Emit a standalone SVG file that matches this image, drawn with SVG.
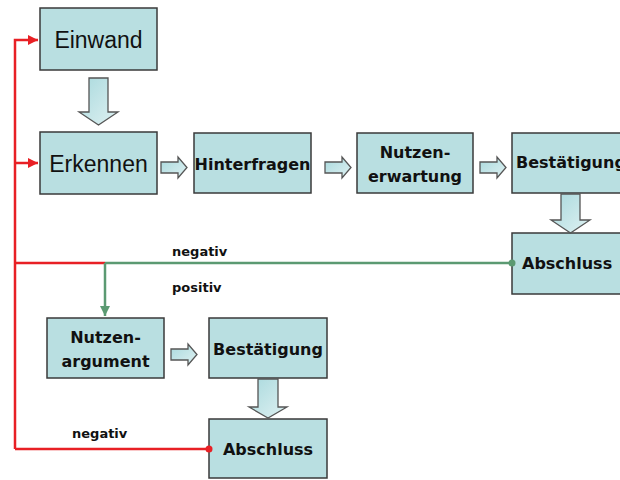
<svg xmlns="http://www.w3.org/2000/svg" width="620" height="480" viewBox="0 0 620 480">
  <defs>
    <style>
      .box { fill: #b9dfe1; stroke: #3a3a3a; stroke-width: 1.5; }
      .lbl { font-family: "DejaVu Sans", Verdana, sans-serif; font-weight: bold; font-size: 16px; fill: #111; }
      .big { font-family: "Liberation Sans", Arial, sans-serif; font-size: 23px; fill: #111; }
      .note { font-family: "DejaVu Sans", Verdana, sans-serif; font-weight: bold; font-size: 13px; fill: #111; }
      .flow { fill: url(#arrowFill); stroke: #555; stroke-width: 1.3; stroke-linejoin: miter; }
      .red { stroke: #e82025; stroke-width: 2.5; fill: none; }
      .green { stroke: #5b9a72; stroke-width: 2.5; fill: none; }
    </style>
    <linearGradient id="arrowFill" x1="0" y1="0" x2="1" y2="1">
      <stop offset="0" stop-color="#a9d9dd"/>
      <stop offset="1" stop-color="#dff1f2"/>
    </linearGradient>
    <marker id="redHead" viewBox="0 0 10 10" refX="10" refY="5" markerWidth="4" markerHeight="4" orient="auto" markerUnits="strokeWidth">
      <path d="M0,0 L10,5 L0,10 z" fill="#e82025"/>
    </marker>
    <marker id="greenHead" viewBox="0 0 10 10" refX="10" refY="5" markerWidth="4" markerHeight="4" orient="auto" markerUnits="strokeWidth">
      <path d="M0,0 L10,5 L0,10 z" fill="#5b9a72"/>
    </marker>
  </defs>

  <rect width="620" height="480" fill="#ffffff"/>

  <g id="einwand">
    <rect class="box" x="40" y="8" width="117" height="62"/>
    <text class="big" x="98.5" y="48" text-anchor="middle">Einwand</text>
  </g>

  <g id="erkennen">
    <rect class="box" x="40" y="132" width="117" height="62"/>
    <text class="big" x="98.5" y="172" text-anchor="middle">Erkennen</text>
  </g>

  <g id="hinterfragen">
    <rect class="box" x="194" y="133" width="117" height="60"/>
    <text class="lbl" x="252.5" y="170" text-anchor="middle">Hinterfragen</text>
  </g>

  <g id="nutzenerwartung">
    <rect class="box" x="357" y="133" width="116" height="60"/>
    <text class="lbl" x="415" y="158" text-anchor="middle">Nutzen-</text>
    <text class="lbl" x="415" y="182" text-anchor="middle">erwartung</text>
  </g>

  <g id="bestaetigung1">
    <rect class="box" x="512" y="133" width="120" height="60"/>
    <text class="lbl" x="516" y="168">Bestätigung</text>
  </g>

  <g id="abschluss1">
    <rect class="box" x="512" y="233" width="120" height="61"/>
    <text class="lbl" x="522" y="269">Abschluss</text>
  </g>

  <g id="nutzenargument">
    <rect class="box" x="47" y="318" width="117" height="60"/>
    <text class="lbl" x="105.5" y="343" text-anchor="middle">Nutzen-</text>
    <text class="lbl" x="105.5" y="367" text-anchor="middle">argument</text>
  </g>

  <g id="bestaetigung2">
    <rect class="box" x="209" y="318" width="118" height="60"/>
    <text class="lbl" x="268" y="355" text-anchor="middle">Bestätigung</text>
  </g>

  <g id="abschluss2">
    <rect class="box" x="209" y="419" width="118" height="59"/>
    <text class="lbl" x="268" y="455" text-anchor="middle">Abschluss</text>
  </g>

  <!-- feedback and decision lines, drawn over the box borders -->
  <g id="connectors">
    <path class="red" d="M15,449 V40 H38" marker-end="url(#redHead)"/>
    <path class="red" d="M15,163 H38" marker-end="url(#redHead)"/>
    <path class="red" d="M15,263 H105"/>
    <path class="red" d="M15,449 H209"/>
    <circle cx="209" cy="449" r="3.5" fill="#e82025"/>
    <path class="green" d="M105,263 H512"/>
    <circle cx="512" cy="263" r="3.5" fill="#5b9a72"/>
    <path class="green" d="M105,263 V316" marker-end="url(#greenHead)"/>

    <!-- block arrows between steps -->
    <path class="flow" d="M89,78 H108 V112 H118 L98.5,125 L79,112 H89 Z"/>
    <path class="flow" d="M561,194 H580 V220 H590 L570.5,233 L551,220 H561 Z"/>
    <path class="flow" d="M258,379 H278 V407 H287 L268,418 L249,407 H258 Z"/>
    <path class="flow" d="M161,162 H178 V157 L187,167.5 L178,178 V173 H161 Z"/>
    <path class="flow" d="M325,162 H342 V157 L351,167.5 L342,178 V173 H325 Z"/>
    <path class="flow" d="M480,162 H497 V157 L506,167.5 L497,178 V173 H480 Z"/>
    <path class="flow" d="M171,349 H188 V344 L197,354.5 L188,365 V360 H171 Z"/>

    <text class="note" x="172" y="256">negativ</text>
    <text class="note" x="172" y="292">positiv</text>
    <text class="note" x="72" y="438">negativ</text>
  </g>
</svg>
